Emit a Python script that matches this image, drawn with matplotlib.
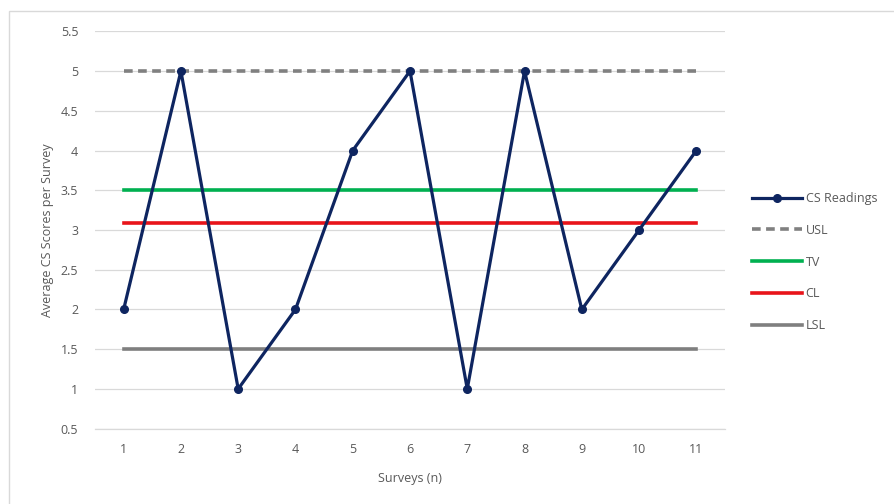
import matplotlib
matplotlib.use("Agg")
import matplotlib.pyplot as plt
from matplotlib.patches import Rectangle

# survey readings and control limits
surveys = list(range(1, 12))
cs_readings = [2, 5, 1, 2, 4, 5, 1, 5, 2, 3, 4]
usl = 5
tv = 3.5
cl = sum(cs_readings) / len(cs_readings)
lsl = 1.5
y_ticks = [0.5, 1, 1.5, 2, 2.5, 3, 3.5, 4, 4.5, 5, 5.5]

plt.rcParams['font.family'] = ['Open Sans', 'DejaVu Sans']
txt = '#595959'

fig = plt.figure(figsize=(8.94, 5.04), dpi=100)
W, H = 894, 504
ax = fig.add_axes([95 / W, 1 - 428.7 / H, 630 / W, (428.7 - 31.3) / H])

# chart area border (only top and left edges show)
fig.patches.append(Rectangle((8.5 / W, -0.1), 1.2, (H - 10.5) / H + 0.1,
                             transform=fig.transFigure, fill=False,
                             edgecolor='#D9D9D9', linewidth=1.0))

ax.plot(surveys, [usl] * len(surveys), color='#808080', lw=2.6,
        dashes=(2.4, 1.5), label='USL', zorder=2)
ax.plot(surveys, [tv] * len(surveys), color='#00B050', lw=2.6,
        label='TV', zorder=2)
ax.plot(surveys, [cl] * len(surveys), color='#E8141A', lw=2.6,
        label='CL', zorder=2)
ax.plot(surveys, [lsl] * len(surveys), color='#7F7F7F', lw=2.6,
        label='LSL', zorder=2)
ax.plot(surveys, cs_readings, color='#0E2560', lw=2.3, marker='o',
        markersize=5.5, label='CS Readings', zorder=3)

ax.set_xlim(0.5, 11.5)
ax.set_ylim(0.5, 5.5)
ax.set_xticks(surveys)
ax.set_xticklabels([str(s) for s in surveys])
ax.set_yticks(y_ticks)
ax.set_yticklabels(['%g' % v for v in y_ticks])
ax.tick_params(length=0, labelsize=9, colors=txt)
ax.tick_params(axis='y', pad=12)
ax.tick_params(axis='x', pad=10)
ax.grid(axis='y', color='#D9D9D9', lw=0.9)
ax.set_axisbelow(True)
for s in ['top', 'right', 'left']:
    ax.spines[s].set_visible(False)
ax.spines['bottom'].set_color('#D9D9D9')
ax.spines['bottom'].set_linewidth(0.9)

ax.set_xlabel('Surveys (n)', fontsize=9, color=txt, labelpad=12)
ax.set_ylabel('Average CS Scores per Survey', fontsize=9, color=txt,
              labelpad=5)

handles, labels = ax.get_legend_handles_labels()
order = [4, 0, 1, 2, 3]
leg = fig.legend([handles[i] for i in order], [labels[i] for i in order],
                 loc='upper left', bbox_to_anchor=(752 / W, 1 - 192 / H),
                 frameon=False, fontsize=9, handlelength=4.0,
                 handletextpad=0.3, labelspacing=1.5, borderaxespad=0,
                 borderpad=0)
for t in leg.get_texts():
    t.set_color(txt)

fig.savefig('out.png', dpi=100, facecolor='white')
